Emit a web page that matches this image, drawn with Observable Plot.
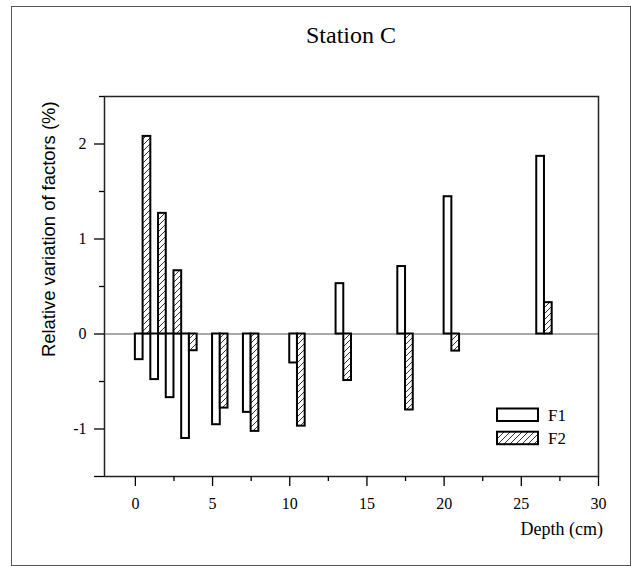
<!DOCTYPE html>
<html><head><meta charset="utf-8">
<script src="https://cdn.jsdelivr.net/npm/d3@7"></script>
<script src="https://cdn.jsdelivr.net/npm/@observablehq/plot@0.6"></script>
<style>
html,body{margin:0;padding:0;background:#fff;}
#wrap{position:relative;width:631px;height:566px;overflow:hidden;}
#frame{position:absolute;left:11px;top:6px;width:620px;height:560px;border:1.5px solid #555;box-sizing:border-box;pointer-events:none;}
#chart{position:absolute;left:0;top:0;}
#chart svg text{font-family:"Liberation Serif","Times New Roman",serif;}
#chart svg text.ylab{font-family:"Liberation Sans",Arial,sans-serif;}
</style></head><body>
<div id="wrap"><div id="chart"></div><div id="frame"></div></div>
<script>
// Data
const depths = [0, 1, 2, 3, 5, 7, 10, 13, 17, 20, 26];          // depth (cm) at start of each sample
const f1 = [-0.27, -0.48, -0.67, -1.10, -0.955, -0.825, -0.305, 0.53, 0.71, 1.445, 1.87];
const f2 = [2.08, 1.27, 0.666, -0.176, -0.78, -1.025, -0.97, -0.49, -0.80, -0.18, 0.33];
const seriesNames = ["F1", "F2"];
const xTicks = [0, 5, 10, 15, 20, 25, 30];
const xMinor = [2.5, 7.5, 12.5, 17.5, 22.5, 27.5];
const yTicks = [-1, 0, 1, 2];
const yMinor = [-0.5, 0.5, 1.5, 2.5];
const yEnd = [-1.5];
const title = "Station C";
const xLabel = "Depth (cm)";
const yLabel = "Relative variation of factors (%)";

const rowsF1 = depths.map((d, i) => ({x1: d, x2: d + 0.5, v: f1[i]}));
const rowsF2 = depths.map((d, i) => ({x1: d + 0.5, x2: d + 1, v: f2[i]}));

const chart = Plot.plot({
  width: 631, height: 566,
  marginLeft: 104, marginRight: 33, marginTop: 96, marginBottom: 90,
  x: {domain: [-2, 30]},
  y: {domain: [-1.5, 2.5]},
  style: {fontFamily: "Liberation Serif", fontSize: "16px", color: "#000", background: "transparent"},
  marks: [
    Plot.ruleY([0], {stroke: "#555", strokeWidth: 1.2}),
    Plot.rect(rowsF1, {x1: "x1", x2: "x2", y1: 0, y2: "v", fill: "white", stroke: "black", strokeWidth: 2}),
    Plot.rect(rowsF2, {x1: "x1", x2: "x2", y1: 0, y2: "v", fill: "url(#hatch)", stroke: "black", strokeWidth: 2}),
    Plot.frame({stroke: "#222", strokeWidth: 1.5}),
    Plot.axisX({ticks: xTicks, tickSize: 10, tickPadding: 11, tickFormat: d => String(d), label: null, fontSize: 16, strokeWidth: 1.3}),
    Plot.axisX({ticks: xMinor, tickSize: 5, tickFormat: () => "", label: null, strokeWidth: 1.3}),
    Plot.axisY({ticks: yTicks, tickSize: 10, tickPadding: 8, tickFormat: d => String(d), label: null, fontSize: 16, strokeWidth: 1.3}),
    Plot.axisY({ticks: yMinor, tickSize: 5, tickFormat: () => "", label: null, strokeWidth: 1.3}),
    Plot.axisY({ticks: yEnd, tickSize: 10, tickFormat: () => "", label: null, strokeWidth: 1.3})
  ]
});

const svg = d3.select(chart);
const defs = svg.insert("defs", ":first-child");
const pat = defs.append("pattern").attr("id", "hatch").attr("patternUnits", "userSpaceOnUse")
  .attr("width", 6).attr("height", 6);
pat.append("rect").attr("width", 6).attr("height", 6).attr("fill", "white");
pat.append("path").attr("d", "M-1,1 L1,-1 M0,6 L6,0 M5,7 L7,5").attr("stroke", "black").attr("stroke-width", 0.8);

// Title and axis labels
svg.append("text").attr("x", 351).attr("y", 43).attr("text-anchor", "middle")
  .attr("font-size", 24).text(title);
svg.append("text").attr("x", 603).attr("y", 535).attr("text-anchor", "end")
  .attr("font-size", 18).text(xLabel);
svg.append("text").attr("class", "ylab").attr("transform", "translate(55,357) rotate(-90)").attr("text-anchor", "start")
  .attr("font-size", 18.4).text(yLabel);

// Legend
const lg = svg.append("g");
seriesNames.forEach((name, i) => {
  lg.append("rect").attr("x", 497).attr("y", 408.5 + i * 23.2).attr("width", 41).attr("height", 12.5)
    .attr("fill", i === 0 ? "white" : "url(#hatch)").attr("stroke", "black").attr("stroke-width", 2);
  lg.append("text").attr("x", 548).attr("y", 421 + i * 23.2).attr("text-anchor", "start")
    .attr("font-size", 17).text(name);
});

document.getElementById("chart").appendChild(chart);
</script>
</body></html>
